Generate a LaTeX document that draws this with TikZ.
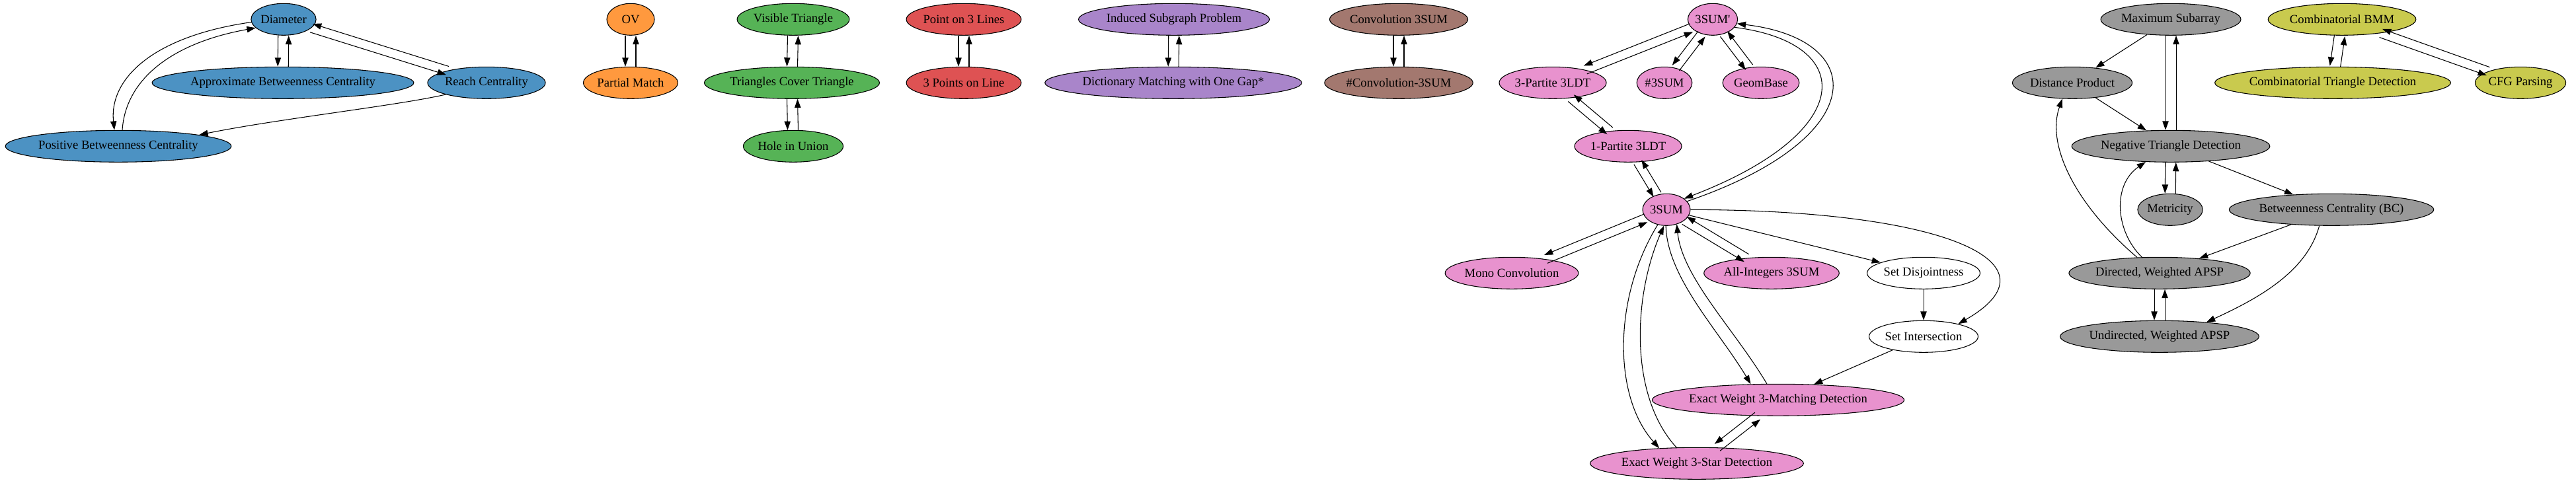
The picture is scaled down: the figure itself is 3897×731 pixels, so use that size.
\documentclass[tikz,border=0pt]{standalone}
\usepackage{fontspec}
\setmainfont{Liberation Serif}[Ligatures=TeXOff]
\usetikzlibrary{shapes.geometric,arrows.meta,calc}
\definecolor{cblue}{RGB}{76,146,195}
\definecolor{corange}{RGB}{255,153,62}
\definecolor{cgreen}{RGB}{86,179,86}
\definecolor{cred}{RGB}{222,82,83}
\definecolor{cpurple}{RGB}{169,133,202}
\definecolor{cbrown}{RGB}{163,120,111}
\definecolor{cpink}{RGB}{232,146,206}
\definecolor{cgray}{RGB}{153,153,153}
\definecolor{colive}{RGB}{201,202,78}
\newlength\lblw
\newcommand\pe[3][6pt]{\draw[arr,transform canvas={shift={($(0,0)!#1!-90:($(#3)-(#2)$)$)}}] (#2) -- (#3);}
\newcommand\nn[4]{%
  \settowidth\lblw{\fontsize{14pt}{16.8pt}\selectfont #4}%
  \pgfmathsetmacro\mwid{max(54,1.33*\lblw+24)}%
  \node[nd,fill=#1,minimum width=\mwid pt] (#2) at (#3) {#4};}
\begin{document}
\begin{tikzpicture}[x=0.75pt,y=-0.75pt,
  nd/.style={ellipse,draw=black,line width=0.8pt,minimum height=36pt,
    inner xsep=0pt,inner ysep=3pt,font=\fontsize{14pt}{16.8pt}\selectfont},
  arr/.style={-{Triangle[length=10pt,width=7pt]},line width=0.8pt}]
\useasboundingbox (0,0) rectangle (3897,731);
% blue
\nn{cblue}{dia}{429,29.3}{Diameter}
\nn{cblue}{abc}{428,125.3}{Approximate Betweenness Centrality}
\nn{cblue}{reach}{736,125.3}{Reach Centrality}
\nn{cblue}{pbc}{179,221.3}{Positive Betweenness Centrality}
% orange
\nn{corange}{ov}{954,29.3}{OV}
\nn{corange}{pm}{954,125.3}{Partial Match}
% green
\nn{cgreen}{vt}{1200,29.3}{Visible Triangle}
\nn{cgreen}{tct}{1198,125.3}{Triangles Cover Triangle}
\nn{cgreen}{hiu}{1200,221.3}{Hole in Union}
% red
\nn{cred}{p3l}{1458,29.3}{Point on 3 Lines}
\nn{cred}{tpl}{1458,125.3}{3 Points on Line}
% purple
\nn{cpurple}{isp}{1776,29.3}{Induced Subgraph Problem}
\nn{cpurple}{dmg}{1775,125.3}{Dictionary Matching with One Gap*}
% brown
\nn{cbrown}{c3}{2116,29.3}{Convolution 3SUM}
\nn{cbrown}{nc3}{2116,125.3}{\#Convolution-3SUM}
% pink
\nn{cpink}{tsp}{2591,29.3}{3SUM'}
\nn{cpink}{p3}{2349,125.3}{3-Partite 3LDT}
\nn{cpink}{ns}{2518,125.3}{\#3SUM}
\nn{cpink}{geo}{2664,125.3}{GeomBase}
\nn{cpink}{o3}{2463,221.3}{1-Partite 3LDT}
\nn{cpink}{sum}{2521,317.3}{3SUM}
\nn{cpink}{mono}{2287,413.3}{Mono Convolution}
\nn{cpink}{ai}{2680,413.3}{All-Integers 3SUM}
\nn{white}{sd}{2910,413.3}{Set Disjointness}
\nn{white}{si}{2910,509.3}{Set Intersection}
\nn{cpink}{ewm}{2690,605.3}{Exact Weight 3-Matching Detection}
\nn{cpink}{ews}{2567,701.3}{Exact Weight 3-Star Detection}
% gray
\nn{cgray}{maxs}{3284,29.3}{Maximum Subarray}
\nn{cgray}{dp}{3135,125.3}{Distance Product}
\nn{cgray}{ntd}{3284,221.3}{Negative Triangle Detection}
\nn{cgray}{met}{3283,317.3}{Metricity}
\nn{cgray}{bc}{3527,317.3}{Betweenness Centrality (BC)}
\nn{cgray}{dap}{3267,413.3}{Directed, Weighted APSP}
\nn{cgray}{uap}{3267,509.3}{Undirected, Weighted APSP}
% olive
\nn{colive}{cbmm}{3543,29.3}{Combinatorial BMM}
\nn{colive}{ctd}{3529,125.3}{Combinatorial Triangle Detection}
\nn{colive}{cfg}{3813,125.3}{CFG Parsing}
% blue edges
\pe{dia}{abc}\pe{abc}{dia}
\pe[5pt]{dia}{reach}\pe[5pt]{reach}{dia}
\draw[arr] (dia.185) .. controls (230,55) and (165,120) .. ([xshift=-4.5pt]pbc.north);
\draw[arr] ([xshift=4.5pt]pbc.north) .. controls (190,120) and (260,65) .. (dia.197);
\draw[arr] (reach.196) .. controls (600,160) and (420,180) .. (pbc.8);
% small groups
\pe{ov}{pm}\pe{pm}{ov}
\pe{vt}{tct}\pe{tct}{vt}
\pe{tct}{hiu}\pe{hiu}{tct}
\pe{p3l}{tpl}\pe{tpl}{p3l}
\pe{isp}{dmg}\pe{dmg}{isp}
\pe{c3}{nc3}\pe{nc3}{c3}
% pink edges
\pe[5pt]{tsp}{p3}\pe[5pt]{p3}{tsp}
\pe[5pt]{tsp}{ns}\pe[5pt]{ns}{tsp}
\pe[5pt]{tsp}{geo}\pe[5pt]{geo}{tsp}
\draw[arr] (tsp.-20) .. controls (2810,65) and (2810,200) .. (sum.32);
\draw[arr] (sum.22) .. controls (2830,210) and (2830,60) .. (tsp.-10);
\pe[5pt]{p3}{o3}\pe[5pt]{o3}{p3}
\pe[5pt]{o3}{sum}\pe[5pt]{sum}{o3}
\pe[5pt]{sum}{mono}\pe[5pt]{mono}{sum}
\pe[5pt]{sum}{ai}\pe[5pt]{ai}{sum}
\draw[arr] (sum) -- (sd);
\draw[arr] (sum.east) .. controls (2950,318) and (3120,400) .. (si.20);
\draw[arr] (sd) -- (si);
\draw[arr] (si) -- (ewm);
\draw[arr] (sum.-92) .. controls (2522,420) and (2600,500) .. (ewm.150);
\draw[arr] (ewm.125) .. controls (2625,500) and (2545,420) .. (sum.-55);
\draw[arr] (sum.-120) .. controls (2440,450) and (2440,600) .. (ews.158);
\draw[arr] (ews.142) .. controls (2465,600) and (2470,450) .. (sum.-99);
\pe[5pt]{ewm}{ews}\pe[5pt]{ews}{ewm}
% gray edges
\draw[arr] (maxs) -- (dp);
\pe{maxs}{ntd}\pe{ntd}{maxs}
\draw[arr] (dp) -- (ntd);
\pe{ntd}{met}\pe{met}{ntd}
\draw[arr] (ntd) -- (bc);
\draw[arr] (bc) -- (dap);
\draw[arr] (bc.-127) .. controls (3490,410) and (3420,450) .. (uap.17);
\draw[arr] (dap.145) .. controls (3140,310) and (3095,220) .. (dp.-122);
\draw[arr] (dap.138) .. controls (3200,350) and (3195,280) .. (ntd.-148);
\pe{dap}{uap}\pe{uap}{dap}
% olive edges
\pe{cbmm}{ctd}\pe{ctd}{cbmm}
\pe[5pt]{cbmm}{cfg}\pe[5pt]{cfg}{cbmm}
\end{tikzpicture}
\end{document}
